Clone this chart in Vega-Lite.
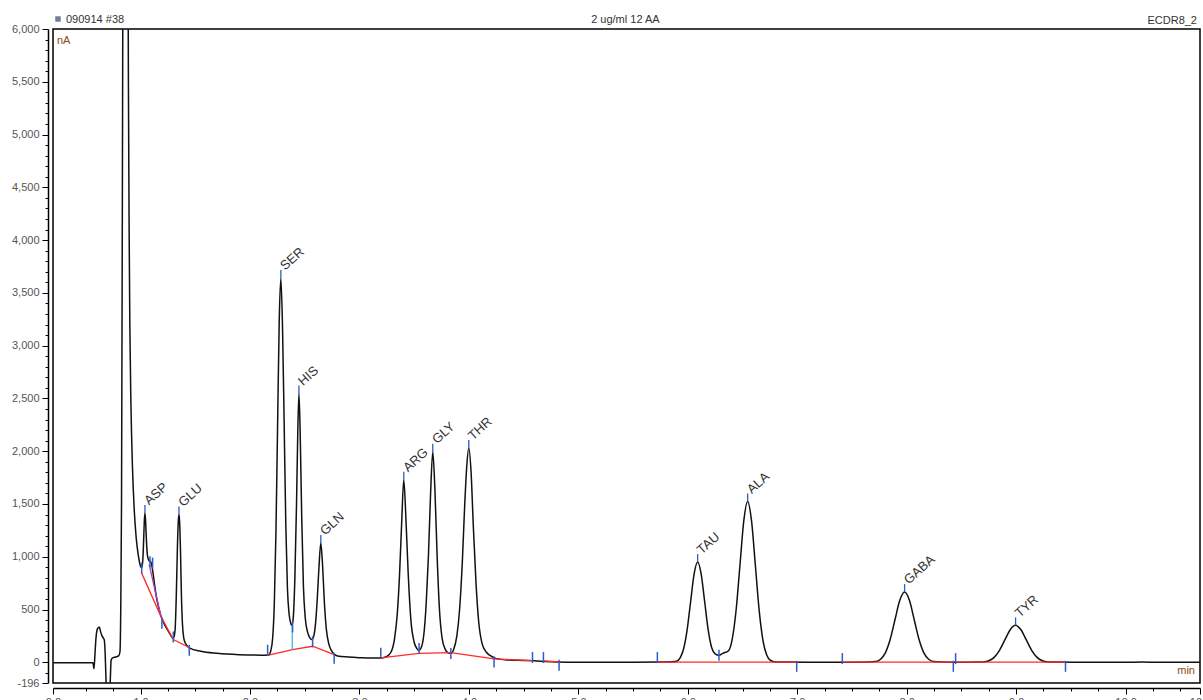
{
  "$schema": "https://vega.github.io/schema/vega-lite/v6.json",
  "autosize": {"type": "none"},
  "padding": {"left": 53, "top": 29, "right": 3, "bottom": 17},
  "width": 1147,
  "height": 654,
  "background": "white",
  "config": {
    "view": {"stroke": "#000", "strokeWidth": 1.5},
    "font": "Liberation Sans"
  },
  "datasets": {
    "curve": [
      {"t":0.2,"v":-5},{"t":0.4,"v":-5},{"t":0.565,"v":-5},{"t":0.574,"v":-60},{"t":0.582,"v":50},{"t":0.592,"v":220},{"t":0.605,"v":315},{"t":0.623,"v":335},{"t":0.635,"v":290},{"t":0.648,"v":250},{"t":0.66,"v":230},{"t":0.668,"v":215},{"t":0.676,"v":100},{"t":0.684,"v":-150},{"t":0.692,"v":-350},{"t":0.703,"v":-450},{"t":0.716,"v":-400},{"t":0.724,"v":-150},{"t":0.731,"v":20},{"t":0.742,"v":40},{"t":0.77,"v":50},{"t":0.8,"v":60},{"t":0.812,"v":100},{"t":0.819,"v":500},{"t":0.826,"v":1500},{"t":0.834,"v":4500},{"t":0.841,"v":7500},{"t":0.85,"v":10000},{"t":0.875,"v":10000},{"t":0.884,"v":7200},{"t":0.889,"v":5500},{"t":0.895,"v":4200},{"t":0.902,"v":3200},{"t":0.912,"v":2450},{"t":0.926,"v":1850},{"t":0.942,"v":1450},{"t":0.96,"v":1180},{"t":0.98,"v":1010},{"t":1.0,"v":910},{"t":1.01,"v":895},{"t":1.02,"v":960},{"t":1.028,"v":1150},{"t":1.034,"v":1330},{"t":1.04,"v":1415},{"t":1.046,"v":1340},{"t":1.053,"v":1170},{"t":1.062,"v":1020},{"t":1.072,"v":975},{"t":1.082,"v":960},{"t":1.092,"v":955},{"t":1.1,"v":930},{"t":1.112,"v":860},{"t":1.13,"v":720},{"t":1.15,"v":590},{"t":1.17,"v":500},{"t":1.186,"v":440},{"t":1.205,"v":390},{"t":1.225,"v":345},{"t":1.245,"v":310},{"t":1.265,"v":275},{"t":1.285,"v":240},{"t":1.3,"v":225},{"t":1.315,"v":300},{"t":1.327,"v":650},{"t":1.337,"v":1100},{"t":1.345,"v":1340},{"t":1.351,"v":1400},{"t":1.357,"v":1330},{"t":1.365,"v":1050},{"t":1.373,"v":650},{"t":1.383,"v":360},{"t":1.395,"v":230},{"t":1.41,"v":180},{"t":1.43,"v":150},{"t":1.45,"v":135},{"t":1.55,"v":105},{"t":1.7,"v":85},{"t":1.9,"v":72},{"t":2.1,"v":68},{"t":2.17,"v":70},
      {"t":2.19,"v":110},{"t":2.207,"v":230},{"t":2.222,"v":550},{"t":2.237,"v":1230},{"t":2.252,"v":2240},{"t":2.267,"v":3230},{"t":2.282,"v":3640},{"t":2.297,"v":3180},{"t":2.312,"v":2270},{"t":2.327,"v":1310},{"t":2.342,"v":700},{"t":2.357,"v":460},{"t":2.372,"v":370},{"t":2.383,"v":350},
      {"t":2.395,"v":420},{"t":2.41,"v":800},{"t":2.425,"v":1500},{"t":2.436,"v":2150},{"t":2.447,"v":2546},{"t":2.458,"v":2200},{"t":2.472,"v":1400},{"t":2.488,"v":720},{"t":2.505,"v":420},{"t":2.525,"v":290},{"t":2.545,"v":235},{"t":2.565,"v":215},
      {"t":2.58,"v":240},{"t":2.598,"v":360},{"t":2.614,"v":590},{"t":2.63,"v":900},{"t":2.647,"v":1130},{"t":2.664,"v":900},{"t":2.68,"v":560},{"t":2.698,"v":310},{"t":2.72,"v":175},{"t":2.745,"v":110},{"t":2.77,"v":75},{"t":2.8,"v":60},{"t":2.9,"v":50},{"t":3.0,"v":44},{"t":3.1,"v":40},{"t":3.2,"v":42},
      {"t":3.25,"v":55},{"t":3.29,"v":100},{"t":3.32,"v":220},{"t":3.345,"v":450},{"t":3.365,"v":800},{"t":3.385,"v":1300},{"t":3.405,"v":1729},{"t":3.425,"v":1350},{"t":3.445,"v":850},{"t":3.47,"v":400},{"t":3.5,"v":190},{"t":3.525,"v":130},{"t":3.542,"v":115},
      {"t":3.56,"v":130},{"t":3.59,"v":280},{"t":3.61,"v":560},{"t":3.63,"v":1000},{"t":3.65,"v":1600},{"t":3.67,"v":1995},{"t":3.69,"v":1620},{"t":3.71,"v":1000},{"t":3.73,"v":520},{"t":3.755,"v":230},{"t":3.785,"v":120},{"t":3.81,"v":90},{"t":3.835,"v":85},
      {"t":3.86,"v":120},{"t":3.89,"v":250},{"t":3.915,"v":500},{"t":3.94,"v":950},{"t":3.96,"v":1450},{"t":3.98,"v":1850},{"t":3.999,"v":2030},{"t":4.02,"v":1800},{"t":4.04,"v":1300},{"t":4.065,"v":750},{"t":4.09,"v":380},{"t":4.12,"v":180},{"t":4.16,"v":95},{"t":4.2,"v":60},{"t":4.25,"v":35},{"t":4.35,"v":22},{"t":4.5,"v":18},{"t":4.6,"v":15},{"t":4.7,"v":8},{"t":4.8,"v":3},{"t":5.0,"v":0},{"t":5.5,"v":0},{"t":5.75,"v":2},{"t":5.85,"v":5},
      {"t":5.898,"v":11},{"t":5.93,"v":42},{"t":5.962,"v":129},{"t":5.994,"v":308},{"t":6.026,"v":576},{"t":6.058,"v":838},{"t":6.09,"v":950},{"t":6.122,"v":838},{"t":6.154,"v":576},{"t":6.186,"v":310},{"t":6.218,"v":140},{"t":6.25,"v":80},{"t":6.285,"v":66},
      {"t":6.32,"v":85},{"t":6.372,"v":110},{"t":6.407,"v":225},{"t":6.442,"v":500},{"t":6.477,"v":924},{"t":6.512,"v":1344},{"t":6.547,"v":1523},{"t":6.582,"v":1344},{"t":6.617,"v":924},{"t":6.652,"v":495},{"t":6.687,"v":206},{"t":6.722,"v":67},{"t":6.757,"v":17},{"t":6.8,"v":4},{"t":6.9,"v":2},{"t":7.2,"v":0},{"t":7.5,"v":0},{"t":7.65,"v":2},
      {"t":7.717,"v":7},{"t":7.761,"v":29},{"t":7.805,"v":90},{"t":7.849,"v":216},{"t":7.893,"v":403},{"t":7.937,"v":587},{"t":7.981,"v":665},{"t":8.025,"v":587},{"t":8.069,"v":403},{"t":8.113,"v":216},{"t":8.157,"v":90},{"t":8.201,"v":29},{"t":8.245,"v":7},{"t":8.3,"v":2},{"t":8.5,"v":0},{"t":8.65,"v":2},
      {"t":8.701,"v":4},{"t":8.75,"v":15},{"t":8.799,"v":47},{"t":8.848,"v":114},{"t":8.897,"v":212},{"t":8.946,"v":309},{"t":8.995,"v":350},{"t":9.044,"v":309},{"t":9.093,"v":212},{"t":9.142,"v":114},{"t":9.191,"v":47},{"t":9.24,"v":15},{"t":9.289,"v":4},{"t":9.35,"v":2},{"t":9.6,"v":0},{"t":10.0,"v":0},{"t":10.15,"v":3},{"t":10.3,"v":0},{"t":10.68,"v":0}
    ],
    "baseline": [
      {"s":"a","t":1.01,"v":845},{"s":"a","t":1.186,"v":435},{"s":"a","t":1.299,"v":215},{"s":"a","t":1.445,"v":140},
      {"s":"b","t":2.17,"v":68},{"s":"b","t":2.389,"v":120},{"s":"b","t":2.572,"v":152},{"s":"b","t":2.769,"v":72},
      {"s":"c","t":3.195,"v":42},{"s":"c","t":3.545,"v":85},{"s":"c","t":3.835,"v":92},{"s":"c","t":4.23,"v":32},
      {"s":"d","t":4.23,"v":32},{"s":"d","t":4.581,"v":16},
      {"s":"e","t":4.681,"v":14},{"s":"e","t":4.824,"v":3},
      {"s":"f","t":5.722,"v":2},{"s":"f","t":6.285,"v":2},{"s":"f","t":6.995,"v":1},
      {"s":"g","t":7.412,"v":1},{"s":"g","t":8.426,"v":1},
      {"s":"h","t":8.447,"v":1},{"s":"h","t":9.451,"v":1}
    ],
    "marks": [
      {"t":1.01,"v":893},{"t":1.086,"v":953},{"t":1.11,"v":940},{"t":1.195,"v":370},{"t":1.299,"v":240},{"t":1.445,"v":114},{"t":2.161,"v":114},{"t":2.389,"v":335},{"t":2.572,"v":193},{"t":2.769,"v":38},{"t":3.195,"v":85},{"t":3.545,"v":130},{"t":3.835,"v":83},{"t":4.23,"v":3},{"t":4.581,"v":45},{"t":4.681,"v":45},{"t":4.824,"v":-28},{"t":5.722,"v":45},{"t":6.285,"v":66},{"t":6.995,"v":-38},{"t":7.412,"v":35},{"t":8.426,"v":-38},{"t":8.447,"v":35},{"t":9.451,"v":-38}
    ],
    "peaks": [
      {"name":"ASP","t":1.04,"v":1415},{"name":"GLU","t":1.351,"v":1400},{"name":"SER","t":2.282,"v":3640},{"name":"HIS","t":2.447,"v":2546},{"name":"GLN","t":2.647,"v":1130},{"name":"ARG","t":3.405,"v":1729},{"name":"GLY","t":3.67,"v":1995},{"name":"THR","t":3.999,"v":2030},{"name":"TAU","t":6.09,"v":950},{"name":"ALA","t":6.547,"v":1523},{"name":"GABA","t":7.981,"v":665},{"name":"TYR","t":8.995,"v":350}
    ]
  },
  "encoding": {
    "x": {
      "field": "t", "type": "quantitative",
      "scale": {"domain": [0.2, 10.68], "nice": false, "zero": false},
      "axis": {
        "title": null, "grid": false, "offset": 5,
        "domainColor": "#000", "domainWidth": 1.5, "tickColor": "#000", "tickWidth": 1,
        "tickSize": {"condition": {"test": "datum.value === 0.2 || datum.value % 1 === 0 || datum.value > 10.6", "value": 6}, "value": 3},
        "values": [0.2,0.5,0.75,1,1.25,1.5,1.75,2,2.25,2.5,2.75,3,3.25,3.5,3.75,4,4.25,4.5,4.75,5,5.25,5.5,5.75,6,6.25,6.5,6.75,7,7.25,7.5,7.75,8,8.25,8.5,8.75,9,9.25,9.5,9.75,10,10.25,10.5,10.68],
        "labelExpr": "datum.value === 0.2 || datum.value % 1 === 0 || datum.value > 10.6 ? format(datum.value, '.1f') : ''",
        "labelFontSize": 11, "labelColor": "#555", "labelFont": "Liberation Sans", "labelPadding": 2, "labelOverlap": false, "labelFlush": false
      }
    },
    "y": {
      "field": "v", "type": "quantitative",
      "scale": {"domain": [-196, 6000], "nice": false, "zero": false},
      "axis": {
        "title": null, "grid": false, "offset": 5,
        "domainColor": "#000", "domainWidth": 1.5, "tickColor": "#000", "tickWidth": 1,
        "tickSize": {"condition": {"test": "datum.value === -196 || datum.value % 500 === 0", "value": 6}, "value": 3},
        "values": [-196,-100,0,100,200,300,400,500,600,700,800,900,1000,1100,1200,1300,1400,1500,1600,1700,1800,1900,2000,2100,2200,2300,2400,2500,2600,2700,2800,2900,3000,3100,3200,3300,3400,3500,3600,3700,3800,3900,4000,4100,4200,4300,4400,4500,4600,4700,4800,4900,5000,5100,5200,5300,5400,5500,5600,5700,5800,5900,6000],
        "labelExpr": "datum.value === -196 ? '-196' : datum.value % 500 === 0 ? format(datum.value, ',') : ''",
        "labelFontSize": 11, "labelColor": "#555", "labelFont": "Liberation Sans", "labelPadding": 3, "labelOverlap": false
      }
    }
  },
  "layer": [
    {
      "data": {"name": "curve"},
      "mark": {"type": "line", "color": "#111", "strokeWidth": 1.5, "interpolate": "monotone", "clip": true}
    },
    {
      "data": {"name": "baseline"},
      "mark": {"type": "line", "color": "#ff2a2a", "strokeWidth": 1.3},
      "encoding": {"detail": {"field": "s"}}
    },
    {
      "data": {"values": [{"t": 1.079, "v": 925}, {"t": 1.186, "v": 435}]},
      "mark": {"type": "line", "color": "#b03cb0", "strokeWidth": 1.3}
    },
    {
      "data": {"values": [{"t": 2.386, "v": 350, "v2": 118}]},
      "mark": {"type": "rule", "color": "#35c0e0", "strokeWidth": 1.3},
      "encoding": {"y2": {"field": "v2"}}
    },
    {
      "data": {"name": "marks"},
      "mark": {"type": "tick", "orient": "vertical", "size": 11, "thickness": 1.5, "color": "#2d5cc8", "opacity": 1}
    },
    {
      "data": {"name": "peaks"},
      "mark": {"type": "tick", "orient": "vertical", "size": 8, "thickness": 1.3, "color": "#2d5cc8", "opacity": 1, "yOffset": -4}
    },
    {
      "data": {"name": "peaks"},
      "mark": {"type": "text", "align": "left", "baseline": "middle", "angle": 318, "dx": 2, "yOffset": -9, "fontSize": 13, "color": "#333", "font": "Liberation Sans"},
      "encoding": {"text": {"field": "name"}}
    },
    {
      "data": {"values": [{"label": "nA", "t": 0.2, "v": 6000}]},
      "mark": {"type": "text", "align": "left", "baseline": "top", "dx": 4, "dy": 6, "fontSize": 11, "color": "#8b4a14", "font": "Liberation Sans"},
      "encoding": {"text": {"field": "label"}}
    },
    {
      "data": {"values": [{"label": "min", "t": 10.68, "v": -196}]},
      "mark": {"type": "text", "align": "right", "baseline": "alphabetic", "dx": -5, "dy": -9, "fontSize": 11, "color": "#8b4a14", "font": "Liberation Sans"},
      "encoding": {"text": {"field": "label"}}
    },
    {
      "data": {"values": [{"t": 0.2, "v": 6000}]},
      "mark": {"type": "point", "shape": "square", "filled": true, "size": 30, "color": "#6d7f95", "opacity": 1, "xOffset": 5, "yOffset": -10, "clip": false}
    },
    {
      "data": {"values": [{"label": "090914 #38", "t": 0.2, "v": 6000}]},
      "mark": {"type": "text", "align": "left", "baseline": "alphabetic", "dx": 13, "dy": -6, "fontSize": 11, "color": "#333", "font": "Liberation Sans"},
      "encoding": {"text": {"field": "label"}}
    },
    {
      "data": {"values": [{"label": "2 ug/ml 12 AA", "t": 5.43, "v": 6000}]},
      "mark": {"type": "text", "align": "center", "baseline": "alphabetic", "dy": -6, "fontSize": 11, "color": "#333", "font": "Liberation Sans"},
      "encoding": {"text": {"field": "label"}}
    },
    {
      "data": {"values": [{"label": "ECDR8_2", "t": 10.68, "v": 6000}]},
      "mark": {"type": "text", "align": "right", "baseline": "alphabetic", "dx": -3, "dy": -5, "fontSize": 11, "color": "#333", "font": "Liberation Sans"},
      "encoding": {"text": {"field": "label"}}
    }
  ]
}
